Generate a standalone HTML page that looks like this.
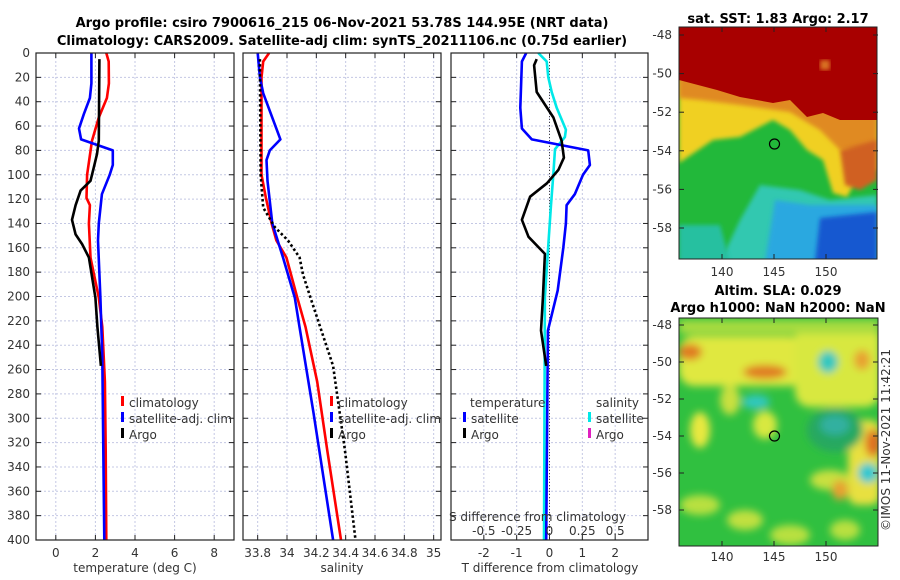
<!DOCTYPE html>
<html><head><meta charset="utf-8">
<style>
html,body{margin:0;padding:0;background:#fff;}
svg{display:block;font-family:"DejaVu Sans","Liberation Sans",sans-serif;}
.t{font-size:12px;fill:#333;}
.b{font-size:13px;font-weight:bold;fill:#000;}
</style></head>
<body>
<svg id="c" width="900" height="580" viewBox="0 0 900 580">
<defs>
<filter id="bl" x="-10%" y="-10%" width="120%" height="120%"><feGaussianBlur stdDeviation="2"/></filter>
<filter id="bl2" x="-20%" y="-20%" width="140%" height="140%"><feGaussianBlur stdDeviation="4"/></filter>
<clipPath id="m1c"><rect x="679" y="27" width="198" height="232"/></clipPath>
<clipPath id="m2c"><rect x="679" y="318" width="199" height="228"/></clipPath>
</defs>
<text class="b" x="342" y="27" text-anchor="middle">Argo profile: csiro 7900616_215 06-Nov-2021 53.78S 144.95E (NRT data)</text>
<text class="b" x="342" y="45" text-anchor="middle">Climatology: CARS2009. Satellite-adj clim: synTS_20211106.nc (0.75d earlier)</text>

<!-- Map 1 SST -->
<g clip-path="url(#m1c)">
<rect x="679" y="27" width="198" height="232" fill="#22b83a"/>
<polygon filter="url(#bl)" fill="#30c8b0" points="760,185 800,190 830,200 877,195 877,262 720,262 740,220"/>
<polygon filter="url(#bl)" fill="#2aa8e0" points="775,200 810,205 840,205 877,205 877,262 765,262"/>
<polygon filter="url(#bl)" fill="#1858d0" points="820,218 877,212 877,262 815,262"/>
<polygon filter="url(#bl)" fill="#28c0a0" points="679,225 720,225 730,262 679,262"/>
<polygon filter="url(#bl)" fill="#f0d020" points="679,20 877,20 877,170 860,173 847,197 833,193 823,160 807,150 790,130 773,120 740,137 713,140 679,163"/>
<polygon filter="url(#bl)" fill="#e08a20" points="679,20 877,20 877,150 840,150 820,130 790,112 740,105 700,100 679,98"/>
<polygon filter="url(#bl)" fill="#d06020" points="840,150 877,140 877,180 860,190 845,185"/>
<polygon fill="#a80000" points="679,20 877,20 877,120 840,120 823,113 807,117 790,100 773,103 740,97 717,90 679,80"/>
<rect x="820" y="60" width="10" height="10" fill="#d87020" filter="url(#bl)"/>
</g>
<rect x="679" y="27" width="198" height="232" fill="none" stroke="#222"/>
<circle cx="774.5" cy="144" r="5" fill="none" stroke="#000" stroke-width="1.2"/>
<text class="b" x="778" y="23" text-anchor="middle">sat. SST: 1.83 Argo: 2.17</text>

<!-- Map 2 SLA -->
<g clip-path="url(#m2c)">
<rect x="679" y="318" width="199" height="228" fill="#30c040"/>
<g filter="url(#bl2)">
<rect x="679" y="336" width="125" height="50" rx="15" fill="#e0e840"/>
<rect x="795" y="322" width="85" height="85" rx="15" fill="#d8e840"/>
<rect x="679" y="320" width="200" height="14" fill="#a8dc40"/>
<ellipse cx="700" cy="430" rx="10" ry="18" fill="#e8e840"/>
<ellipse cx="730" cy="400" rx="10" ry="15" fill="#c8e040"/>
<ellipse cx="765" cy="425" rx="12" ry="14" fill="#d8e840"/>
<rect x="848" y="420" width="32" height="85" rx="10" fill="#e8e040"/>
<ellipse cx="830" cy="480" rx="20" ry="10" fill="#c8e040"/>
<ellipse cx="700" cy="505" rx="20" ry="10" fill="#b8e040"/>
<ellipse cx="745" cy="520" rx="18" ry="10" fill="#c0e040"/>
<ellipse cx="790" cy="535" rx="20" ry="10" fill="#b8e040"/>
<ellipse cx="845" cy="530" rx="15" ry="10" fill="#b8e040"/>
<ellipse cx="690" cy="352" rx="12" ry="8" fill="#e07a20"/>
<ellipse cx="765" cy="372" rx="22" ry="7" fill="#e07a20"/>
<ellipse cx="862" cy="360" rx="8" ry="10" fill="#e8a030"/>
<ellipse cx="873" cy="443" rx="8" ry="14" fill="#e07020"/>
<ellipse cx="840" cy="490" rx="8" ry="10" fill="#e8a030"/>
<ellipse cx="835" cy="430" rx="28" ry="22" fill="#28a860"/>
<ellipse cx="828" cy="362" rx="10" ry="11" fill="#30c8c0"/>
<ellipse cx="756" cy="402" rx="14" ry="7" fill="#30c8c0"/>
<ellipse cx="868" cy="473" rx="10" ry="10" fill="#30c8d0"/>
<ellipse cx="835" cy="425" rx="15" ry="10" fill="#30b0a0"/>
</g>
</g>
<rect x="679" y="318" width="199" height="228" fill="none" stroke="#222"/>
<circle cx="774.5" cy="436" r="5" fill="none" stroke="#000" stroke-width="1.2"/>
<text class="b" x="778" y="295" text-anchor="middle">Altim. SLA: 0.029</text>
<text class="b" x="778" y="312" text-anchor="middle">Argo h1000: NaN h2000: NaN</text>
<text class="t" transform="translate(890,440) rotate(-90)" text-anchor="middle">©IMOS 11-Nov-2021 11:42:21</text>
<g id="maps"></g>
<g id="plots"></g>
</svg>
<script>
// ---- data ----
const climDepth = [0,7,25,37,53,72,100,119,125,140,168,201,225,270,326,400];
const climTemp  = [2.55,2.67,2.68,2.58,2.17,1.83,1.58,1.55,1.72,1.67,1.75,2.17,2.35,2.48,2.52,2.55];
const satDepth  = [0,25,37,50,62,71,80,92,100,116,140,154,201,250,400];
const satTemp   = [1.8,1.8,1.72,1.42,1.17,1.28,2.88,2.88,2.72,2.33,2.17,2.13,2.25,2.35,2.45];
const argoDepth = [5,72,83,94,105,113,125,137,149,157,168,201,225,257];
const argoTemp  = [2.2,2.17,2.08,1.92,1.75,1.25,1.0,0.82,1.0,1.33,1.67,2.0,2.1,2.28];

const climSalDepth = [0,7,20,100,119,140,154,168,201,225,270,326,400];
const climSal      = [33.878,33.838,33.826,33.826,33.856,33.895,33.928,33.996,34.07,34.126,34.206,34.274,34.368];
const satSalDepth  = [0,20,33,71,80,88,105,140,168,201,225,295,400];
const satSal       = [33.8,33.815,33.838,33.955,33.883,33.86,33.867,33.9,33.973,34.053,34.085,34.18,34.314];
const argoSalDepth = [5,100,127,143,154,168,182,201,257,326,400];
const argoSal      = [33.815,33.82,33.838,33.917,34.007,34.086,34.109,34.16,34.314,34.395,34.467];

const dTsatDepth  = [0,7,45,62,71,80,92,100,116,125,140,160,195,228,400];
const dTsat       = [-0.71,-0.84,-0.89,-0.84,-0.54,1.18,1.23,1.02,0.77,0.52,0.5,0.42,0.25,-0.05,-0.1];
const dTargoDepth = [5,10,32,53,72,86,96,107,118,137,151,165,201,228,257];
const dTargo      = [-0.39,-0.47,-0.39,0.12,0.37,0.44,0.27,-0.08,-0.59,-0.84,-0.64,-0.14,-0.2,-0.26,-0.1];
const dSsatDepth  = [0,7,20,32,45,63,69,74,79,100,126,165,201,400];
const dSsat       = [-0.085,-0.021,-0.009,0.017,0.055,0.125,0.117,0.08,0.042,0.029,0.011,-0.014,-0.035,-0.042];

const depthTicks = [0,20,40,60,80,100,120,140,160,180,200,220,240,260,280,300,320,340,360,380,400];
const tempTicks = [0,2,4,6,8];
const salTicks = [33.8,34,34.2,34.4,34.6,34.8,35];
const salTickLabels = ['33.8','34','34.2','34.4','34.6','34.8','35'];
const dTTicks = [-2,-1,0,1,2];
const dSTicks = [-0.5,-0.25,0,0.25,0.5];
const latTicks = [-48,-50,-52,-54,-56,-58];
const lonTicks = [140,145,150];

// ---- helpers ----
const NS='http://www.w3.org/2000/svg';
const root=document.getElementById('plots');
function mk(tag,attrs,parent){const e=document.createElementNS(NS,tag);for(const k in attrs)e.setAttribute(k,attrs[k]);(parent||root).appendChild(e);return e;}
const Y0=53,Y1=540;
const yS=d=>Y0+(d/400)*(Y1-Y0);
function lin(d0,d1,r0,r1){return v=>r0+(v-d0)/(d1-d0)*(r1-r0);}
const panels=[
 {x0:36,x1:234,sc:lin(-1,9,36,234)},
 {x0:243,x1:441,sc:lin(33.7,35.05,243,441)},
 {x0:451,x1:648,sc:lin(-3,3,451,648)}
];
const sS=lin(-0.75,0.75,451,648);

panels.forEach((p,i)=>{
  const g=mk('g',{});
  
  
  depthTicks.forEach(d=>{
    const y=yS(d);
    const gl=mk('line',{x1:p.x0,x2:p.x1,y1:y,y2:y,stroke:'#c4c8e4','stroke-dasharray':'2,2','stroke-width':1},g);
    
    
    mk('line',{x1:p.x0,x2:p.x0+5,y1:y,y2:y,stroke:'#222'},g);
    mk('line',{x1:p.x1-5,x2:p.x1,y1:y,y2:y,stroke:'#222'},g);
    if(i===0){
      const t=mk('text',{x:30,y:y+4,'text-anchor':'end','class':'t'},g);
      t.textContent=d;
      
      
    }
  });
  const ticks=i===0?tempTicks:i===1?salTicks:dTTicks;
  ticks.forEach((v,j)=>{
    const x=p.sc(v);
    mk('line',{x1:x,x2:x,y1:Y0,y2:Y1,stroke:'#c4c8e4','stroke-dasharray':'2,2'},g);
    mk('line',{x1:x,x2:x,y1:Y1-5,y2:Y1,stroke:'#222'},g);
    mk('line',{x1:x,x2:x,y1:Y0,y2:Y0+5,stroke:'#222'},g);
    const t=mk('text',{x:x,y:557,'text-anchor':'middle','class':'t'},g);
    t.textContent=i===1?salTickLabels[j]:v;
    
    
  });
});
const zl=mk('line',{x1:panels[2].sc(0),x2:panels[2].sc(0),y1:Y0,y2:Y1,stroke:'#444','stroke-dasharray':'1,2'});



function series(depths,vals,sc,color,name,dash,w){
  const pts=depths.map((d,k)=>sc(vals[k]).toFixed(1)+','+yS(d).toFixed(1)).join(' ');
  const a={points:pts,fill:'none',stroke:color,'stroke-width':w||2.6,'stroke-linejoin':'round'};
  if(dash)a['stroke-dasharray']=dash;
  const e=mk('polyline',a);
  
  
}
series(climDepth,climTemp,panels[0].sc,'#f00','temp-climatology-line');
series(satDepth,satTemp,panels[0].sc,'#00f','temp-satellite-line');
series(argoDepth,argoTemp,panels[0].sc,'#000','temp-argo-line');
series(climSalDepth,climSal,panels[1].sc,'#f00','sal-climatology-line');
series(satSalDepth,satSal,panels[1].sc,'#00f','sal-satellite-line');
series(argoSalDepth,argoSal,panels[1].sc,'#000','sal-argo-line','2.5,2.5');
series(dSsatDepth,dSsat,sS,'#00e8e8','sdiff-satellite-line');
series(dTsatDepth,dTsat,panels[2].sc,'#00f','tdiff-satellite-line');
series(dTargoDepth,dTargo,panels[2].sc,'#000','tdiff-argo-line');

panels.forEach(p=>{
  const f=mk('rect',{x:p.x0,y:Y0,width:p.x1-p.x0,height:Y1-Y0,fill:'none',stroke:'#222','stroke-width':1.2});
  
  
});

function leg(x,y,color,label,name){
  mk('rect',{x:x,y:y-11,width:3,height:10,fill:color});
  const t=mk('text',{x:x+8,y:y,'class':'t'});
  t.textContent=label;
  
  
}
leg(121,407,'#f00','climatology','legend-climatology');
leg(121,423,'#00f','satellite-adj. clim','legend-satellite');
leg(121,439,'#000','Argo','legend-argo');
leg(330,407,'#f00','climatology','legend-sal-climatology');
leg(330,423,'#00f','satellite-adj. clim','legend-sal-satellite');
leg(330,439,'#000','Argo','legend-sal-argo');
let tt=mk('text',{x:470,y:407,'class':'t'});tt.textContent='temperature';


tt=mk('text',{x:596,y:407,'class':'t'});tt.textContent='salinity';


leg(463,423,'#00f','satellite','legend-tdiff-satellite');
leg(463,439,'#000','Argo','legend-tdiff-argo');
leg(588,423,'#00e8e8','satellite','legend-sdiff-satellite');
leg(588,439,'#e020c0','Argo','legend-sdiff-argo');

tt=mk('text',{x:449,y:521,'class':'t'});tt.textContent='S difference from climatology';


dSTicks.forEach(v=>{
  const t=mk('text',{x:sS(v),y:535,'text-anchor':'middle','class':'t'});
  t.textContent=v;
  
  
});
[['temperature (deg C)',135,'temp-axis-title'],['salinity',342,'sal-axis-title'],['T difference from climatology',550,'tdiff-axis-title']].forEach(a=>{
  const t=mk('text',{x:a[1],y:572,'text-anchor':'middle','class':'t'});
  t.textContent=a[0];
  
  
});

const mroot=document.getElementById('maps');
function mapAxes(top,bottom,latY0,latStep,labelY){
  latTicks.forEach((l,k)=>{
    const y=latY0+k*latStep;
    mk('line',{x1:679,x2:684,y1:y,y2:y,stroke:'#222'},mroot);
    mk('line',{x1:873,x2:878,y1:y,y2:y,stroke:'#222'},mroot);
    const t=mk('text',{x:672,y:y+4,'text-anchor':'end','class':'t'},mroot);
    t.textContent=l;
    
    
  });
  lonTicks.forEach((l,k)=>{
    const x=722+k*52;
    mk('line',{x1:x,x2:x,y1:bottom-5,y2:bottom,stroke:'#222'},mroot);
    mk('line',{x1:x,x2:x,y1:top,y2:top+5,stroke:'#222'},mroot);
    const t=mk('text',{x:x,y:labelY,'text-anchor':'middle','class':'t'},mroot);
    t.textContent=l;
    
    
  });
}
mapAxes(27,259,35,38.6,276);
mapAxes(318,546,325,37,561);
</script>
</body></html>
